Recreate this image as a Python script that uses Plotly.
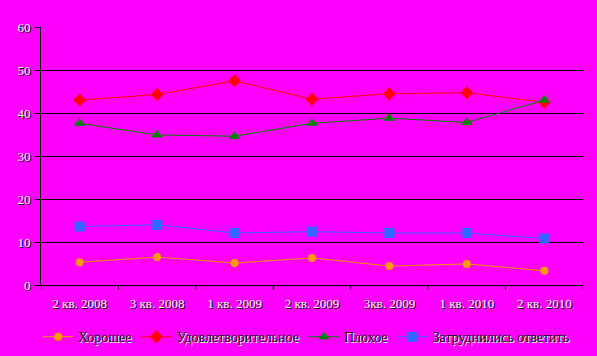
import plotly.graph_objects as go

categories = ["2 кв. 2008", "3 кв. 2008", "1 кв. 2009", "2 кв. 2009", "3кв. 2009", "1 кв. 2010", "2 кв. 2010"]
good = [5.3, 6.5, 5.1, 6.3, 4.4, 4.9, 3.3]
satisfactory = [43.0, 44.3, 47.5, 43.2, 44.5, 44.7, 42.5]
bad = [37.6, 34.9, 34.6, 37.6, 38.8, 37.8, 43.0]
hard = [13.6, 14.0, 12.1, 12.4, 12.1, 12.1, 10.8]
yticks = [0, 10, 20, 30, 40, 50, 60]

series = [
    ("Хорошее", good, "#FF9900", "circle", 8),
    ("Удовлетворительное", satisfactory, "#FF0000", "diamond", 10),
    ("Плохое", bad, "#008000", "triangle-up", 10),
    ("Затруднились ответить", hard, "#3366FF", "square", 10),
]

x_idx = list(range(len(categories)))
fig = go.Figure()
for name, vals, col, sym, sz in series:
    fig.add_trace(go.Scatter(
        x=x_idx, y=vals, name=name, mode="lines+markers",
        line=dict(color=col, width=1),
        marker=dict(color=col, symbol=sym, size=sz, line=dict(width=0)),
    ))

tickfont = dict(family="Liberation Serif", size=13, color="white", shadow="1px 1px 0px black")
fig.update_layout(
    width=597, height=356,
    paper_bgcolor="#FF00FF", plot_bgcolor="#FF00FF",
    margin=dict(l=41, r=14, t=27, b=71, autoexpand=False),
    showlegend=True,
    legend=dict(orientation="h", x=0.49, xanchor="center", y=-0.14, yanchor="top",
                font=dict(family="Liberation Serif", size=14, color="black", shadow="1px 1px 0px white"),
                itemwidth=30, bgcolor="rgba(0,0,0,0)", tracegroupgap=0),
    xaxis=dict(
        range=[-0.5, len(categories) - 0.5],
        tickvals=x_idx, ticktext=categories,
        showgrid=False, zeroline=False,
        showline=True, linecolor="black", linewidth=1,
        ticks="", tickfont=tickfont, ticklabelstandoff=6,
    ),
    yaxis=dict(
        range=[0, 60], tickvals=yticks,
        showgrid=True, gridcolor="black", gridwidth=1,
        zeroline=False, showline=True, linecolor="black", linewidth=1,
        ticks="outside", ticklen=5, tickcolor="black",
        tickfont=tickfont, ticklabelstandoff=2,
    ),
)
# category boundary tick marks on x axis
for b in [i - 0.5 for i in range(len(categories) + 1)]:
    fig.add_shape(type="line", xref="x", yref="paper", x0=b, x1=b, y0=0, y1=-0.018,
                  line=dict(color="black", width=1))

fig.write_html("out.html", config={"displayModeBar": False},
               post_script="document.body.style.margin='0';document.body.style.background='#FF00FF';")
